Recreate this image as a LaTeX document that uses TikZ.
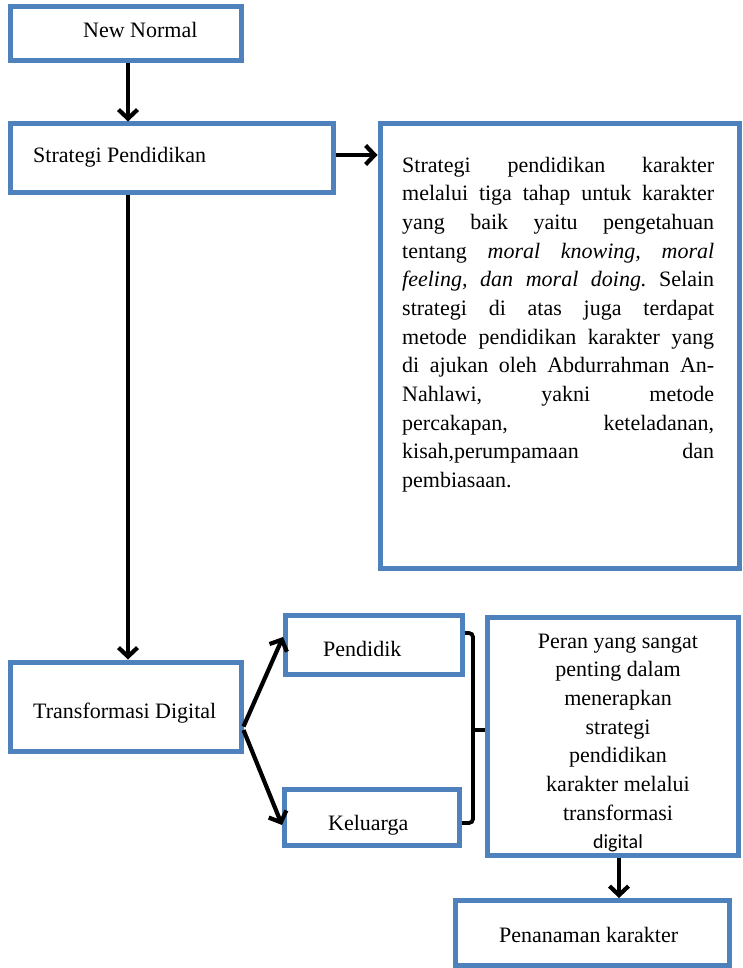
\documentclass[tikz,border=0pt]{standalone}
\usepackage{fontspec}
\setmainfont{Liberation Serif}
\newfontfamily\calib{Carlito}
\usetikzlibrary{arrows.meta}
\definecolor{boxblue}{RGB}{79,129,189}
\frenchspacing
\tikzset{
  box/.style={draw=boxblue, line width=5pt, fill=white, rectangle, inner sep=0pt},
  arr/.style={line width=4.2pt, -{Straight Barb[length=9pt,width=19pt]}},
  brk/.style={line width=3.8pt, rounded corners=4pt},
  lbl/.style={anchor=base west, inner sep=0pt, font=\fontsize{22}{28.65}\selectfont}
}
\begin{document}
\begin{tikzpicture}[x=1pt,y=-1pt]
\useasboundingbox[fill=white] (0,0) rectangle (743,968);
% boxes
\node[box, minimum width=231pt, minimum height=54pt] (nn) at (125.5,34) {};
\node[box, minimum width=323pt, minimum height=69pt] (sp) at (171.5,158.5) {};
\node[box, minimum width=359pt, minimum height=444pt] (big) at (559.5,346) {};
\node[box, minimum width=231pt, minimum height=89pt] (td) at (125.5,706.5) {};
\node[box, minimum width=177pt, minimum height=59pt] (pd) at (374,645) {};
\node[box, minimum width=175pt, minimum height=56pt] (kl) at (372,817.5) {};
\node[box, minimum width=251pt, minimum height=238pt] (pe) at (613,736.5) {};
\node[box, minimum width=274pt, minimum height=65pt] (pn) at (592.5,933) {};
% texts
\node[lbl] (tnn) at (83,38) {New Normal};
\node[lbl] (tsp) at (33,163) {Strategi Pendidikan};
\node[lbl] (ttd) at (33,718) {Transformasi Digital};
\node[lbl] (tpd) at (323,656) {Pendidik};
\node[lbl] (tkl) at (328,830) {Keluarga};
\node[lbl] (tpn) at (499,942) {Penanaman karakter};
\node[anchor=north west, inner sep=0pt] (tbig) at (402,152) {\parbox[t]{312pt}{\fontsize{22}{28.65}\selectfont
\strut\makebox[\linewidth][s]{Strategi pendidikan karakter}\\
\makebox[\linewidth][s]{melalui tiga tahap untuk karakter}\\
\makebox[\linewidth][s]{yang baik yaitu pengetahuan}\\
\makebox[\linewidth][s]{tentang \textit{moral knowing, moral}}\\
\makebox[\linewidth][s]{\textit{feeling, dan moral doing.} Selain}\\
\makebox[\linewidth][s]{strategi di atas juga terdapat}\\
\makebox[\linewidth][s]{metode pendidikan karakter yang}\\
\makebox[\linewidth][s]{di ajukan oleh Abdurrahman An-}\\
\makebox[\linewidth][s]{Nahlawi, yakni metode}\\
\makebox[\linewidth][s]{percakapan, keteladanan,}\\
\makebox[\linewidth][s]{kisah,perumpamaan dan}\\
pembiasaan.}};
\node[anchor=north, inner sep=0pt] (tpe) at (618,627.98) {\parbox[t]{250pt}{\centering\fontsize{22}{28.65}\selectfont
\strut Peran yang sangat\\
penting dalam\\
menerapkan\\
strategi\\
pendidikan\\
karakter melalui\\
transformasi\\
{\calib\fontsize{20}{28.65}\selectfont digital}}};
% connectors
\draw[arr] ([xshift=2.5pt]nn.south) -- ([xshift=2.5pt]nn.south |- sp.north);
\draw[arr] ([yshift=3.5pt]sp.east) -- ([yshift=3.5pt]sp.east -| big.west);
\draw[arr] ([xshift=-43.5pt]sp.south) -- ([xshift=-43.5pt]sp.south |- td.north);
\draw[arr] ([yshift=-20pt]td.east) -- ([yshift=8pt]pd.west);
\draw[arr] ([yshift=-23.5pt]td.east) -- ([yshift=-7.5pt]kl.west);
\draw[arr] ([xshift=6pt]pe.south) -- ([xshift=6pt]pe.south |- pn.north);
\draw[brk] ([yshift=12pt]pd.east) -| (473,730) |- ([yshift=-5.5pt]kl.east);
\coordinate (bm) at (473,730);
\draw[line width=3.8pt] (bm) -- (bm -| pe.west);
\end{tikzpicture}
\end{document}
